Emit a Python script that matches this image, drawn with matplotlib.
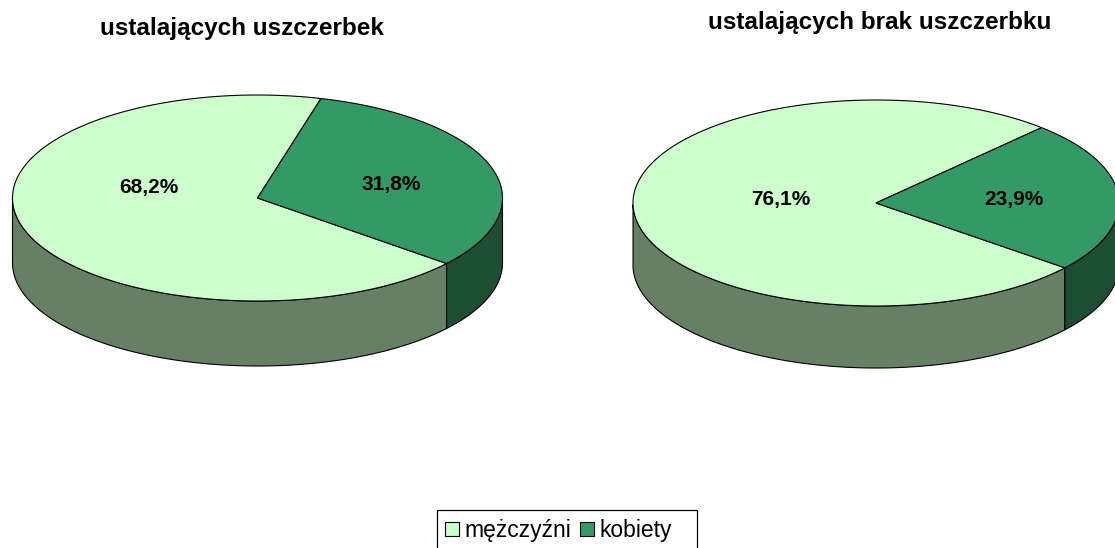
import numpy as np
import matplotlib.pyplot as plt
from matplotlib.patches import Polygon, Patch, Rectangle

plt.rcParams['font.family'] = ['Liberation Sans', 'DejaVu Sans']

categories = ['mężczyźni', 'kobiety']
titles = ['ustalających uszczerbek', 'ustalających brak uszczerbku']
values_left = [68.2, 31.8]
values_right = [76.1, 23.9]
labels_left = ['68,2%', '31,8%']
labels_right = ['76,1%', '23,9%']

top_colors = ['#ccffcc', '#339966']
side_colors = ['#668066', '#1d4d33']

fig = plt.figure(figsize=(11.15, 5.48), dpi=100)
ax = fig.add_axes([0, 0, 1, 1])
ax.set_xlim(0, 1115)
ax.set_ylim(548, 0)
ax.axis('off')


def pie3d(cx, cy, a, b, depth, values, labels, start=-39.5, lab_pos=None):
    total = float(sum(values))
    angles = [start]
    for v in values:
        angles.append(angles[-1] - v / total * 360.0)  # clockwise
    # side walls (front half only)
    for i in range(len(values)):
        t1, t0 = angles[i], angles[i + 1]
        th = np.deg2rad(np.linspace(t0, t1, 300))
        front = np.sin(th) <= 0
        if not front.any():
            continue
        tf = th[front]
        xs = cx + a * np.cos(tf)
        ys = cy - b * np.sin(tf)
        pts = list(zip(xs, ys)) + list(zip(xs[::-1], ys[::-1] + depth))
        ax.add_patch(Polygon(pts, closed=True, fc=side_colors[i], ec='black', lw=0.8))
    # top faces
    for i in range(len(values)):
        th = np.deg2rad(np.linspace(angles[i + 1], angles[i], 300))
        xs = cx + a * np.cos(th)
        ys = cy - b * np.sin(th)
        pts = [(cx, cy)] + list(zip(xs, ys))
        ax.add_patch(Polygon(pts, closed=True, fc=top_colors[i], ec='black', lw=0.8))
    for i, lab in enumerate(labels):
        fx, fy = lab_pos[i]
        ax.text(cx + fx * a, cy - fy * b, lab, ha='center', va='center',
                fontsize=15, fontweight='bold')


pie3d(257.5, 198, 245, 103, 65, values_left, labels_left,
      start=-39.5, lab_pos=[(-0.445, 0.10), (0.545, 0.135)])
pie3d(876, 203, 243, 103, 62, values_right, labels_right,
      start=-39.0, lab_pos=[(-0.391, 0.03), (0.568, 0.03)])

ax.text(242, 28, titles[0], ha='center', va='center', fontsize=17.5, fontweight='bold')
ax.text(880, 22, titles[1], ha='center', va='center', fontsize=17.5, fontweight='bold')

# legend (frame drawn separately so it has the wider right padding)
handles = [Patch(fc=top_colors[i], ec='black', lw=0.8) for i in range(2)]
leg = fig.legend(handles, categories, loc='upper left', bbox_to_anchor=(437 / 1115, 1 - 511 / 548),
                 ncol=2, fontsize=16.5, frameon=False,
                 handlelength=0.6, handleheight=0.6, handletextpad=0.25, columnspacing=0.4,
                 borderpad=0.35, borderaxespad=0)
ax.add_patch(Rectangle((437, 510), 260, 50, fc='none', ec='black', lw=0.9, clip_on=False))

fig.savefig('out.png', dpi=100)
